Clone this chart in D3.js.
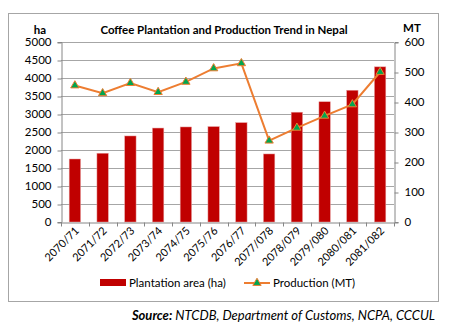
<!DOCTYPE html>
<html>
<head>
<meta charset="utf-8">
<script src="https://cdn.jsdelivr.net/npm/d3@7"></script>
<style>
  body { margin: 0; background: #fff; }
  text { font-family: Lato, "Open Sans", sans-serif; fill: #000; }
</style>
</head>
<body>
<svg id="chart" width="454" height="329"></svg>
<script>
const years = ["2070/71", "2071/72", "2072/73", "2073/74", "2074/75", "2075/76", "2076/77",
    "2077/078", "2078/079", "2079/080", "2080/081", "2081/082"]
const area = [1750, 1910, 2390, 2610, 2640, 2650, 2760, 1890, 3050, 3340, 3660, 4310]
const production = [455, 429, 463, 433, 467, 512, 529, 271, 314, 354, 392, 500]
const leftTicks = d3.range(0, 5001, 500)
const rightTicks = d3.range(0, 601, 100)

const svg = d3.select("#chart")
const plot = { left: 61, right: 394, top: 42, bottom: 222 }

// outer frame
svg.append("rect").attr("x", 8.5).attr("y", 13.5).attr("width", 430).attr("height", 288)
    .attr("fill", "none").attr("stroke", "#a6a6a6")

const scX = d3.scaleBand().domain(years).range([plot.left, plot.right]).paddingInner(0.59).paddingOuter(0.295)
const scY = d3.scaleLinear().domain([0, 5000]).range([plot.bottom, plot.top])
const scY2 = d3.scaleLinear().domain([0, 600]).range([plot.bottom, plot.top])

// gridlines
svg.append("g").selectAll("line").data(leftTicks.slice(1)).enter().append("line")
    .attr("x1", plot.left).attr("x2", plot.right)
    .attr("y1", d => Math.round(scY(d)) + 0.5).attr("y2", d => Math.round(scY(d)) + 0.5)
    .attr("stroke", "#a6a6a6")

// bars
svg.append("g").selectAll("rect").data(area).enter().append("rect")
    .attr("x", (d, i) => scX(years[i]))
    .attr("width", scX.bandwidth())
    .attr("y", d => scY(d))
    .attr("height", d => scY(0) - scY(d))
    .attr("fill", "#c00000")
    .attr("stroke", "#e8a0a0").attr("stroke-width", 0.5)

// axes
const yAxis = svg.append("g").attr("transform", `translate(${plot.left + 0.5},0)`)
    .call(d3.axisLeft(scY).tickValues(leftTicks).tickFormat(d3.format("d")).tickSize(4).tickPadding(6))
const y2Axis = svg.append("g").attr("transform", `translate(${plot.right + 0.5},0)`)
    .call(d3.axisRight(scY2).tickValues(rightTicks).tickFormat(d3.format("d")).tickSize(4).tickPadding(6))
const xAxis = svg.append("g").attr("transform", `translate(0,${plot.bottom + 0.5})`)
    .call(d3.axisBottom(scX).tickSize(0).tickPadding(0))

;[yAxis, y2Axis, xAxis].forEach(a => {
    a.select(".domain").attr("stroke", "#868686")
    a.selectAll(".tick line").attr("stroke", "#868686")
    a.selectAll("text").style("font-size", "11.5px").style("font-family", "Lato, sans-serif")
})
y2Axis.selectAll(".tick line").attr("transform", "translate(0,0.5)")
yAxis.selectAll(".tick line").attr("transform", "translate(0,0.5)")

// x tick marks between categories
const step = scX.step()
xAxis.selectAll("line.sep").data(d3.range(years.length + 1)).enter().append("line")
    .attr("class", "sep")
    .attr("x1", i => Math.round(plot.left + i * step) + 0.5).attr("x2", i => Math.round(plot.left + i * step) + 0.5)
    .attr("y1", 0).attr("y2", 4).attr("stroke", "#868686")

xAxis.selectAll(".tick text")
    .attr("text-anchor", "end")
    .attr("dy", null).attr("y", 0)
    .attr("transform", "translate(5,9) rotate(-45)")
    .style("font-size", "11px")

// production line
const lnMkr = d3.line().x((d, i) => scX(years[i]) + scX.bandwidth() / 2).y(d => scY2(d))
svg.append("path").attr("d", lnMkr(production))
    .attr("fill", "none").attr("stroke", "#ed7d31").attr("stroke-width", 2)

const tri = d3.symbol().type(d3.symbolTriangle).size(30)
svg.append("g").selectAll("path").data(production).enter().append("path")
    .attr("d", tri)
    .attr("transform", (d, i) => `translate(${scX(years[i]) + scX.bandwidth() / 2},${scY2(d)})`)
    .attr("fill", "#00a650").attr("stroke", "#ed7d31").attr("stroke-width", 1)

// titles
svg.append("text").attr("x", 224).attr("y", 34).attr("text-anchor", "middle")
    .style("font-size", "11.5px").style("font-weight", "bold")
    .text("Coffee Plantation and Production Trend in Nepal")
svg.append("text").attr("x", 40).attr("y", 34).attr("text-anchor", "middle")
    .style("font-size", "11.5px").style("font-weight", "bold").text("ha")
svg.append("text").attr("x", 412).attr("y", 32).attr("text-anchor", "middle")
    .style("font-size", "11.5px").style("font-weight", "bold").text("MT")

// legend
const legend = svg.append("g")
legend.append("rect").attr("x", 100).attr("y", 279).attr("width", 26).attr("height", 7).attr("fill", "#c00000")
legend.append("text").attr("x", 129).attr("y", 286.5).style("font-size", "11.5px").text("Plantation area (ha)")
legend.append("line").attr("x1", 244).attr("x2", 270).attr("y1", 283).attr("y2", 283)
    .attr("stroke", "#ed7d31").attr("stroke-width", 2)
legend.append("path").attr("d", tri).attr("transform", "translate(257,283)")
    .attr("fill", "#00a650").attr("stroke", "#ed7d31").attr("stroke-width", 1)
legend.append("text").attr("x", 273).attr("y", 286.5).style("font-size", "11.5px").text("Production (MT)")

// source
const src = svg.append("text").attr("x", 435).attr("y", 320).attr("text-anchor", "end")
    .style("font-size", "13px").style("font-style", "italic")
src.append("tspan").style("font-weight", "bold").text("Source:")
src.append("tspan").text(" NTCDB, Department of Customs, NCPA, CCCUL")
</script>
</body>
</html>
